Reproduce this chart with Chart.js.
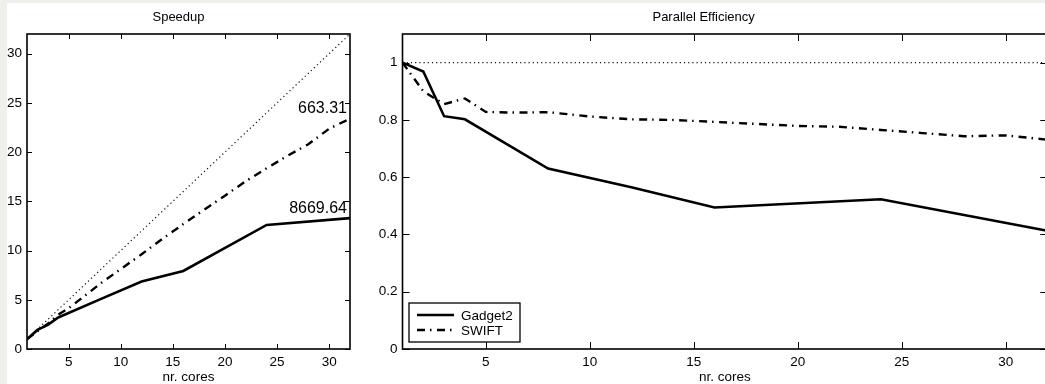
<!DOCTYPE html>
<html>
<head>
<meta charset="utf-8">
<script src="https://cdn.jsdelivr.net/npm/chart.js@4/dist/chart.umd.min.js"></script>
<style>
  html, body { margin: 0; padding: 0; overflow: hidden; background: #efefeb; width: 1045px; height: 384px; }
  #paper { position: absolute; left: 7px; top: 3px; width: 1100px; height: 381px; background: #fff; }
  #speedup { position: absolute; left: 0; top: 0; }
  #efficiency { position: absolute; left: 353px; top: 0; }
</style>
</head>
<body>
<div id="paper">
  <canvas id="speedup" width="353" height="381"></canvas>
  <canvas id="efficiency" width="700" height="381"></canvas>
</div>
<script>
// values
const idealCores = [1, 32]
const idealSpeedup = [1, 32]
const idealEfficiency = [1, 1]

const gadgetCores = [1, 2, 3, 4, 8, 12, 16, 24, 32]
const gadgetSpeedup = [1, 1.94, 2.45, 3.2, 5.04, 6.85, 7.93, 12.6, 13.3]
const gadgetEfficiency = [1, 0.969, 0.813, 0.802, 0.63, 0.565, 0.494, 0.523, 0.413]

const swiftCores = [1, 2, 3, 4, 5, 6, 7, 8, 10, 12, 14, 16, 18, 20, 22, 24, 26, 28, 30, 32]
const swiftSpeedup = [1, 1.8, 2.57, 3.5, 4.14, 4.96, 5.78, 6.62, 8.12, 9.62, 11.2, 12.69, 14.15, 15.58, 17.05, 18.36, 19.63, 20.8, 22.38, 23.4]
const swiftEfficiency = [1, 0.9, 0.855, 0.875, 0.828, 0.826, 0.826, 0.827, 0.812, 0.802, 0.8, 0.793, 0.786, 0.779, 0.776, 0.765, 0.754, 0.743, 0.746, 0.731]

const xTicks = [5, 10, 15, 20, 25, 30]
const speedupTicks = [0, 5, 10, 15, 20, 25, 30]
const efficiencyTicks = [0, 0.2, 0.4, 0.6, 0.8, 1]

const gadgetEndLabel = '8669.64'
const swiftEndLabel = '663.31'

const FONT = "'Liberation Sans', Arial, Helvetica, sans-serif"

const toPoints = (xs, ys) => xs.map((x, i) => ({ x: x, y: ys[i] }))

// box round the axes, with MATLAB style ticks pointing inwards on all sides
const frameTicks = {
    id: 'frameTicks',
    afterDatasetsDraw(chart, args, opts) {
        const { ctx, chartArea: a, scales } = chart
        const len = opts.len || 5
        ctx.save()
        ctx.strokeStyle = '#000'
        ctx.lineWidth = 1
        ctx.beginPath()
        for (const t of scales.x.ticks) {
            const px = Math.round(scales.x.getPixelForValue(t.value)) + 0.5
            ctx.moveTo(px, a.bottom); ctx.lineTo(px, a.bottom - len)
            ctx.moveTo(px, a.top); ctx.lineTo(px, a.top + len)
        }
        for (const t of scales.y.ticks) {
            const py = Math.round(scales.y.getPixelForValue(t.value)) + 0.5
            ctx.moveTo(a.left, py); ctx.lineTo(a.left + len, py)
            ctx.moveTo(a.right, py); ctx.lineTo(a.right - len, py)
        }
        ctx.stroke()
        ctx.lineWidth = 1.6
        ctx.strokeRect(a.left, a.top, a.right - a.left, a.bottom - a.top)
        ctx.restore()
    }
}

// number written above the end of a series
const endLabels = {
    id: 'endLabels',
    afterDatasetsDraw(chart) {
        const { ctx, scales } = chart
        ctx.save()
        ctx.fillStyle = '#000'
        ctx.font = '16px ' + FONT
        ctx.textAlign = 'right'
        ctx.textBaseline = 'alphabetic'
        chart.data.datasets.forEach(ds => {
            if (!ds.endLabel) return
            const last = ds.data[ds.data.length - 1]
            ctx.fillText(ds.endLabel, scales.x.getPixelForValue(last.x) - 3, scales.y.getPixelForValue(last.y) - 5.5)
        })
        ctx.restore()
    }
}

// legend box in the lower left corner of the axes
const boxLegend = {
    id: 'boxLegend',
    afterDraw(chart, args, opts) {
        if (!opts.show) return
        const { ctx, chartArea: a } = chart
        const items = chart.data.datasets.filter(ds => ds.inLegend)
        const left = a.left + 6.5
        const top = a.bottom - 46
        ctx.save()
        ctx.fillStyle = '#fff'
        ctx.fillRect(left, top, 111, 39)
        ctx.strokeStyle = '#000'
        ctx.lineWidth = 1.3
        ctx.strokeRect(left, top, 111, 39)
        ctx.font = '13.5px ' + FONT
        ctx.textBaseline = 'middle'
        ctx.textAlign = 'left'
        items.forEach((ds, i) => {
            const y = top + 12 + i * 15
            ctx.beginPath()
            ctx.setLineDash(ds.borderDash || [])
            ctx.lineWidth = ds.borderWidth
            ctx.strokeStyle = ds.borderColor
            ctx.moveTo(left + 8, y)
            ctx.lineTo(left + 45, y)
            ctx.stroke()
            ctx.setLineDash([])
            ctx.fillStyle = '#000'
            ctx.fillText(ds.label, left + 52, y + 1)
        })
        ctx.restore()
    }
}

const datasets = (ideal, gadget, swift) => [
    {
        label: 'ideal',
        data: ideal,
        borderColor: '#111',
        borderWidth: 1.2,
        borderDash: [1.2, 3],
    },
    {
        label: 'Gadget2',
        data: gadget,
        borderColor: '#000',
        borderWidth: 2.6,
        inLegend: true,
    },
    {
        label: 'SWIFT',
        data: swift,
        borderColor: '#000',
        borderWidth: 2.4,
        borderDash: [8, 5, 1.5, 5.5],
        inLegend: true,
    },
]

const getChartOptions = (cfg) => ({
    type: 'line',
    data: { datasets: cfg.datasets },
    options: {
        responsive: false,
        animation: false,
        devicePixelRatio: 1,
        layout: { padding: { left: 0, right: cfg.padRight, top: 0, bottom: 0 } },
        elements: { point: { radius: 0 }, line: { tension: 0 } },
        plugins: {
            legend: { display: false },
            tooltip: { enabled: false },
            title: {
                display: true,
                text: cfg.title,
                color: '#000',
                font: { family: FONT, size: 13, weight: 'normal', lineHeight: 1.2 },
                padding: { top: 7, bottom: 8.4 },
            },
            frameTicks: { len: cfg.tickLen },
            boxLegend: { show: cfg.legend },
        },
        scales: {
            x: {
                type: 'linear',
                min: 1,
                max: 32,
                grid: { display: false, drawTicks: false },
                border: { display: false },
                afterBuildTicks: (s) => { s.ticks = xTicks.map(v => ({ value: v })) },
                afterFit: (s) => { s.height = 35 },
                ticks: {
                    color: '#000',
                    padding: 5,
                    maxRotation: 0,
                    font: { family: FONT, size: 13.5 },
                    callback: (v) => String(v),
                },
                title: {
                    display: true,
                    text: 'nr. cores',
                    color: '#000',
                    font: { family: FONT, size: 13.5, lineHeight: 1 },
                    padding: 0,
                },
            },
            y: {
                type: 'linear',
                min: 0,
                max: cfg.yMax,
                grid: { display: false, drawTicks: false },
                border: { display: false },
                afterBuildTicks: (s) => { s.ticks = cfg.yTicks.map(v => ({ value: v })) },
                afterFit: (s) => { s.width = cfg.yWidth },
                ticks: {
                    color: '#000',
                    padding: 5,
                    font: { family: FONT, size: 13.5 },
                    callback: (v) => String(Math.round(v * 10) / 10),
                },
            },
        },
    },
    plugins: [frameTicks, endLabels, boxLegend],
})

const speedupSets = datasets(
    toPoints(idealCores, idealSpeedup),
    toPoints(gadgetCores, gadgetSpeedup),
    toPoints(swiftCores, swiftSpeedup)
)
speedupSets[1].endLabel = gadgetEndLabel
speedupSets[2].endLabel = swiftEndLabel

new Chart(document.getElementById('speedup'), getChartOptions({
    title: 'Speedup',
    datasets: speedupSets,
    yMax: 32,
    yTicks: speedupTicks,
    yWidth: 20,
    padRight: 10,
    tickLen: 5,
    legend: false,
}))

new Chart(document.getElementById('efficiency'), getChartOptions({
    title: 'Parallel Efficiency',
    datasets: datasets(
        toPoints(idealCores, idealEfficiency),
        toPoints(gadgetCores, gadgetEfficiency),
        toPoints(swiftCores, swiftEfficiency)
    ),
    yMax: 1.1,
    yTicks: efficiencyTicks,
    yWidth: 42.5,
    padRight: 12.7,
    tickLen: 7,
    legend: true,
}))
</script>
</body>
</html>
